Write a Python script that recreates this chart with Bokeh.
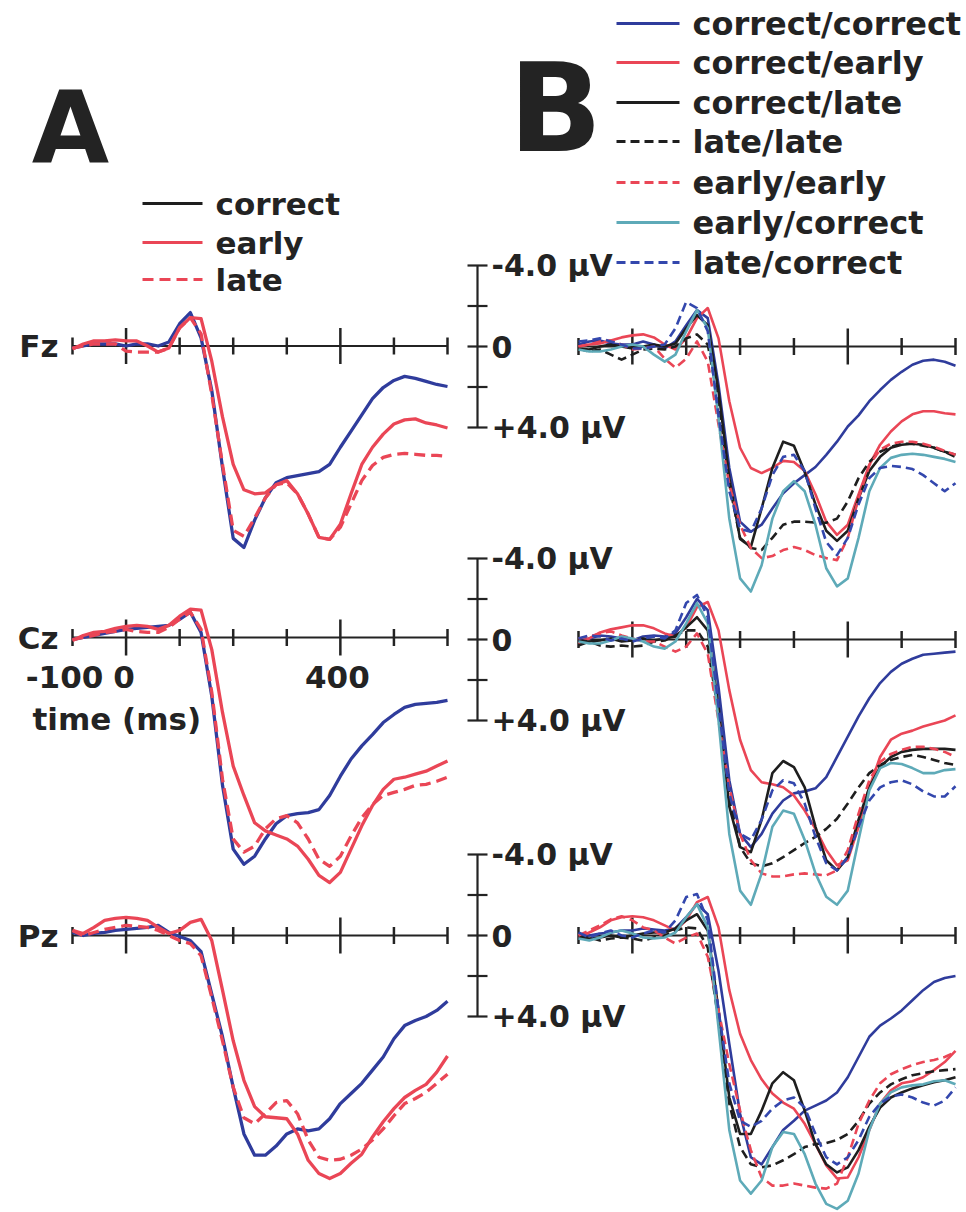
from bokeh.plotting import figure
from bokeh.models import Range1d
from bokeh.core.properties import value
from bokeh.embed import file_html
from bokeh.resources import INLINE

# ---------------- data (µV, negative plotted up) ----------------
TIME_MS = list(range(-100, 601, 20))
TICKS_MAJOR = [0, 400]
TICKS_MINOR = [-100, 100, 200, 300, 500, 600]
TIME_TICK_LABELS = ["-100", "0", "400"]
TIME_TICK_LABEL_POS = [-100, 0, 400]
SCALE_UV = [-4, -2, 0, 2, 4]
SCALE_LABEL_UV = [-4, 0, 4]
SCALE_LABELS = ["-4.0 µV", "0", "+4.0 µV"]
CHANNELS = ["Fz", "Cz", "Pz"]
A_CONDITIONS = ["correct", "early", "late"]
B_CONDITIONS = ["correct/correct", "correct/early", "correct/late", "late/late",
                "early/early", "early/correct", "late/correct"]
PANEL_LETTERS = ["A", "B"]

# Panel A
A_FZ_CORRECT = [0.1,0,-0.1,-0.1,-0.1,0,-0.1,-0.1,0,-0.2,-1.1,-1.65,-0.4,2.2,6.0,9.5,9.95,8.6,7.5,6.75,6.5,6.4,6.3,6.2,5.85,5.0,4.2,3.4,2.6,2.05,1.7,1.5,1.6,1.75,1.9,2.0]
A_FZ_EARLY = [0.15,-0.1,-0.25,-0.25,-0.3,-0.25,-0.25,0,0.3,0.1,-0.9,-1.4,-1.35,0.75,3.5,5.85,7.1,7.3,7.25,6.85,6.65,7.3,8.3,9.45,9.55,8.8,7.3,5.85,5.0,4.35,3.85,3.65,3.6,3.8,3.9,4.05]
A_FZ_LATE = [0.1,0,-0.1,-0.1,-0.1,0.25,0.3,0.3,0.3,0.1,-0.9,-1.4,-0.6,2.4,5.85,9.1,9.4,8.5,7.5,6.85,6.75,7.3,8.3,9.45,9.55,8.95,7.8,6.65,5.9,5.5,5.35,5.3,5.35,5.4,5.4,5.45]
A_CZ_CORRECT = [0.1,0,-0.1,-0.2,-0.3,-0.4,-0.45,-0.5,-0.55,-0.6,-0.9,-1.25,-0.25,2.9,7.3,10.45,11.2,10.8,9.95,9.2,8.8,8.7,8.65,8.5,7.8,6.85,6.0,5.35,4.8,4.2,3.8,3.45,3.3,3.25,3.2,3.1]
A_CZ_EARLY = [0.15,-0.1,-0.25,-0.3,-0.45,-0.55,-0.6,-0.55,-0.4,-0.6,-1.05,-1.4,-1.35,0.6,3.7,6.35,7.8,9.15,9.55,9.75,9.95,10.3,10.95,11.75,12.1,11.6,10.45,9.3,8.3,7.5,7.0,6.9,6.75,6.6,6.35,6.1]
A_CZ_LATE = [0.1,0,-0.1,-0.25,-0.3,-0.4,-0.3,-0.25,-0.25,-0.5,-0.9,-1.25,-0.4,2.7,7.0,9.95,10.6,10.3,9.45,8.95,8.8,9.15,9.95,10.95,11.3,10.8,9.8,8.9,8.25,7.8,7.65,7.5,7.3,7.25,7.1,6.9]
A_PZ_CORRECT = [-0.15,0,-0.1,-0.15,-0.25,-0.3,-0.35,-0.4,-0.5,-0.15,0.05,0.25,0.8,2.9,5.0,7.5,9.8,10.85,10.85,10.4,9.8,9.55,9.65,9.55,9.05,8.3,7.8,7.3,6.65,6.0,5.1,4.45,4.2,4.0,3.7,3.25]
A_PZ_EARLY = [-0.25,-0.1,-0.4,-0.75,-0.85,-0.9,-0.85,-0.75,-0.4,-0.1,-0.25,-0.65,-0.8,0.25,2.7,5.2,7.15,8.45,8.95,9.0,9.05,9.8,11.1,11.75,12.0,11.75,11.25,10.8,9.95,9.2,8.55,8.0,7.65,7.35,6.75,5.95]
A_PZ_LATE = [-0.25,0,-0.15,-0.3,-0.4,-0.5,-0.45,-0.4,-0.25,0,0.25,0.4,1.0,3.05,5.2,7.5,9.0,9.3,8.8,8.25,8.15,8.8,10.1,10.95,11.1,11.05,10.85,10.55,10.1,9.55,8.9,8.3,8.05,7.75,7.3,6.85]

# Panel B
B_FZ_CC = [-0.1,-0.25,-0.3,-0.15,-0.1,-0.1,-0.25,-0.1,0.1,-0.25,-1.05,-1.8,-1.4,1.9,6.0,8.65,9.15,8.8,8.0,7.25,6.75,6.35,5.95,5.35,4.7,3.95,3.4,2.7,2.15,1.65,1.25,0.9,0.7,0.65,0.75,0.95]
B_FZ_CE = [0,-0.1,-0.15,-0.3,-0.45,-0.55,-0.6,-0.45,-0.1,0.15,-0.4,-1.4,-1.9,-0.4,2.7,5.0,6.0,6.25,6.0,5.65,5.7,6.15,7.3,8.65,9.3,8.8,7.3,5.85,4.85,4.2,3.7,3.35,3.2,3.2,3.3,3.35]
B_FZ_CL = [0.1,0.15,0,-0.1,0,0.1,0,-0.1,0,-0.15,-0.9,-1.55,-1.05,2.2,6.5,9.5,9.9,8.0,6.0,4.7,4.9,6.2,7.8,9.1,9.6,9.1,7.5,6.15,5.45,5.0,4.85,4.8,4.85,5.0,5.2,5.35]
B_FZ_LL = [0.1,0.25,0.15,0.4,0.65,0.4,0.15,0.1,0.15,0,-0.4,-0.6,-0.1,2.7,6.8,9.45,9.95,10.05,9.45,8.8,8.65,8.65,8.7,8.7,8.5,7.65,6.5,5.7,5.2,4.95,4.8,4.8,4.9,5.0,5.2,5.45]
B_FZ_EE = [0,-0.1,-0.25,-0.3,-0.1,0.15,0.1,0,0.6,1.05,0.6,-0.25,0.75,3.85,6.8,8.8,9.95,10.45,10.35,10.05,9.9,10.05,10.3,10.45,10.55,9.45,7.5,5.85,5.1,4.8,4.7,4.7,4.8,4.95,5.15,5.35]
B_FZ_EC = [0.15,0.25,0.25,0.15,0,-0.1,0,0.4,0.75,0.4,-0.75,-1.8,-0.9,3.55,8.5,11.45,12.1,10.8,8.5,7.15,6.65,7.15,8.8,10.95,11.85,11.45,9.45,7.15,6.0,5.5,5.35,5.3,5.35,5.45,5.55,5.7]
B_FZ_LC = [-0.25,-0.3,-0.4,-0.25,-0.1,0.1,0.1,0,-0.1,-0.9,-2.2,-1.9,-0.75,3.4,7.15,9.0,9.15,8.0,6.35,5.45,5.35,6.15,8.0,9.65,10.3,9.45,7.8,6.5,6.0,5.9,5.95,6.05,6.35,6.75,7.15,6.75]
B_CZ_CC = [0.1,-0.05,-0.2,-0.15,-0.05,0.05,-0.15,-0.2,-0.15,-0.3,-1.1,-2.0,-1.45,2.35,6.95,9.6,10.25,9.6,8.6,7.95,7.6,7.5,7.35,6.8,5.8,4.8,3.8,2.9,2.15,1.6,1.2,0.95,0.75,0.7,0.65,0.6]
B_CZ_CE = [0.2,-0.05,-0.35,-0.5,-0.6,-0.7,-0.7,-0.55,-0.3,-0.15,-0.6,-1.6,-1.85,-0.45,2.5,4.95,6.45,7.05,7.15,7.3,7.7,8.45,9.35,10.4,11.15,10.9,9.25,7.3,5.8,4.95,4.65,4.5,4.3,4.15,4.0,3.75]
B_CZ_CL = [0.3,0.1,0.05,-0.05,0.1,0.05,-0.05,0.05,-0.05,-0.15,-0.6,-1.1,-0.45,3.3,8.25,10.25,10.5,8.9,6.6,6.0,6.3,7.3,9.25,10.9,11.4,10.75,8.9,7.3,6.3,5.8,5.55,5.45,5.4,5.4,5.4,5.45]
B_CZ_LL = [0.05,0.1,0.3,0.35,0.3,0.35,0.3,0.1,0.05,-0.2,-0.45,-0.45,0.35,3.65,7.75,10.25,11.05,11.2,11.05,10.75,10.4,10.05,9.75,9.35,8.85,8.1,7.3,6.6,6.2,5.95,5.8,5.7,5.8,5.95,6.1,6.2]
B_CZ_EE = [-0.05,-0.15,-0.3,-0.4,-0.2,-0.05,0.1,0.1,0.35,0.6,0.35,-0.3,0.7,4.0,7.3,9.6,10.9,11.55,11.7,11.7,11.6,11.55,11.6,11.65,11.4,10.4,8.6,6.95,6.05,5.65,5.45,5.3,5.3,5.4,5.55,5.8]
B_CZ_EC = [0.1,0.2,0.2,0.05,-0.15,-0.05,0.1,0.35,0.45,0.1,-0.8,-1.8,-0.8,4.0,9.6,12.4,13.1,11.55,9.25,8.45,8.6,9.9,11.55,12.7,13.1,12.4,9.9,7.45,6.35,6.1,6.15,6.35,6.6,6.6,6.45,6.4]
B_CZ_LC = [-0.05,-0.2,-0.15,0.05,-0.05,0.1,-0.05,-0.15,-0.05,-0.45,-1.8,-2.2,-1.1,3.3,7.6,9.6,9.9,8.9,7.45,6.95,7.1,8.1,9.75,11.05,11.4,10.75,9.25,7.95,7.3,7.05,6.95,7.15,7.5,7.75,7.75,7.25]
B_PZ_CC = [0.15,0,-0.1,-0.15,-0.25,-0.25,-0.35,-0.3,-0.25,-0.35,-0.9,-1.55,-1.05,1.75,5.35,8.8,10.95,11.3,10.45,9.6,9.15,8.65,8.4,8.15,7.75,7.0,6.0,5.0,4.45,4.1,3.7,3.2,2.7,2.3,2.1,2.0]
B_PZ_CE = [0.1,-0.15,-0.4,-0.75,-0.9,-0.95,-0.9,-0.75,-0.5,-0.25,-0.75,-1.65,-1.9,-0.4,2.7,4.85,6.15,7.1,7.8,8.25,8.55,9.3,10.3,11.35,12.0,11.95,10.95,9.6,8.3,7.65,7.3,7.2,7.0,6.65,6.25,5.7]
B_PZ_CL = [0.1,0.15,0.1,0,0.1,0,-0.1,-0.15,-0.15,-0.35,-0.75,-1.05,-0.25,3.7,8.0,9.8,9.8,8.65,7.3,6.75,7.15,8.65,10.3,11.3,11.7,11.45,10.6,9.45,8.5,8.0,7.75,7.55,7.4,7.25,7.15,7.0]
B_PZ_LL = [0,0.1,0.25,0.15,0.1,0.15,0.25,0.1,0,-0.25,-0.4,-0.35,0.6,4.2,8.3,10.45,11.3,11.45,11.35,11.1,10.8,10.45,10.3,10.25,10.1,9.8,9.15,8.3,7.75,7.35,7.1,6.9,6.8,6.7,6.65,6.6]
B_PZ_EE = [0,-0.25,-0.5,-0.8,-0.95,-0.75,-0.4,-0.25,0.1,0.4,0.1,-0.1,1.05,3.7,6.35,8.65,10.6,11.95,12.35,12.35,12.25,12.35,12.45,12.5,12.25,10.95,9.3,8.15,7.3,6.85,6.6,6.4,6.25,6.15,6.0,5.75]
B_PZ_EC = [0.15,0.25,0.1,-0.15,-0.25,-0.1,0.1,0.15,0.1,-0.15,-0.9,-1.55,-0.4,4.55,9.6,12.1,12.75,12.1,10.45,9.7,9.8,10.8,12.25,13.25,13.5,13.1,11.75,9.6,8.3,7.75,7.5,7.4,7.35,7.2,7.15,7.35]
B_PZ_LC = [-0.15,0.1,-0.1,-0.25,0,0.1,-0.1,-0.25,-0.15,-0.75,-1.9,-2.05,-0.75,3.7,7.3,9.15,9.45,9.15,8.55,8.15,8.0,8.5,9.8,10.95,11.3,10.95,10.1,8.95,8.3,7.95,7.85,8.0,8.25,8.4,8.15,7.5]

A_SERIES = {
    "Fz": [A_FZ_CORRECT, A_FZ_EARLY, A_FZ_LATE],
    "Cz": [A_CZ_CORRECT, A_CZ_EARLY, A_CZ_LATE],
    "Pz": [A_PZ_CORRECT, A_PZ_EARLY, A_PZ_LATE],
}
B_SERIES = {
    "Fz": [B_FZ_CC, B_FZ_CE, B_FZ_CL, B_FZ_LL, B_FZ_EE, B_FZ_EC, B_FZ_LC],
    "Cz": [B_CZ_CC, B_CZ_CE, B_CZ_CL, B_CZ_LL, B_CZ_EE, B_CZ_EC, B_CZ_LC],
    "Pz": [B_PZ_CC, B_PZ_CE, B_PZ_CL, B_PZ_LL, B_PZ_EE, B_PZ_EC, B_PZ_LC],
}

# ---------------- styles / layout ----------------
BLUE = "#2f3c9c"
BLUE2 = "#3347ad"
RED = "#ea4656"
BLACK = "#1e1e1e"
TEAL = "#5eaab8"
INK = "#232323"
FONT = value("DejaVu Sans")

A_STYLE = [(BLUE, "solid"), (RED, "solid"), (RED, "11 6")]
A_LEGEND_COLORS = [(BLACK, "solid"), (RED, "solid"), (RED, "11 6")]
B_STYLE = [(BLUE, "solid"), (RED, "solid"), (BLACK, "solid"), (BLACK, "9 5"),
           (RED, "9 5"), (TEAL, "solid"), (BLUE2, "9 5")]

W, H = 966, 1212
PX_PER_UV = 20.25
X_PX = {"A": (72.0, 447.0), "B": (578.0, 955.0)}
BASE_PX = {"A": {"Fz": 345.5, "Cz": 637.0, "Pz": 935.0},
           "B": {"Fz": 346.0, "Cz": 639.0, "Pz": 935.0}}
SCALE_BAR_PX = 477.0


def k_of(panel):
    a, b = X_PX[panel]
    return (b - a) / (TIME_MS[-1] - TIME_MS[0])


def time_range(panel):
    k = k_of(panel)
    start = TIME_MS[0] - X_PX[panel][0] / k
    return Range1d(start=start, end=start + W / k)


def volt_range(px_zero):
    return Range1d(start=(H - px_zero) / PX_PER_UV, end=-px_zero / PX_PER_UV)


p = figure(width=W, height=H, x_range=Range1d(0, W), y_range=Range1d(H, 0),
           output_backend="svg", toolbar_location=None, x_axis_type=None, y_axis_type=None,
           min_border=0, background_fill_color="white", border_fill_color="white")
p.outline_line_color = None
p.extra_x_ranges = {"A": time_range("A"), "B": time_range("B")}
p.extra_y_ranges = {panel + ch: volt_range(BASE_PX[panel][ch]) for panel in "AB" for ch in CHANNELS}

MINOR_HALF = 8.5 / PX_PER_UV
MAJOR_HALF = 18.0 / PX_PER_UV

# legend A (pixel layout, default ranges)
LEG_A_Y = [203, 242, 279]
for yy, (col, dash) in zip(LEG_A_Y, A_LEGEND_COLORS):
    p.line(x=[142, 202], y=[yy, yy], line_color=col, line_width=3.2, line_dash=dash)
# legend B
LEG_B_Y = [23, 62, 102, 141, 182, 222, 262]
for yy, (col, dash) in zip(LEG_B_Y, B_STYLE):
    p.line(x=[616, 679], y=[yy, yy], line_color=col, line_width=3.0, line_dash=dash)

# time axes
for panel in "AB":
    for ch in CHANNELS:
        kw = dict(x_range_name=panel, y_range_name=panel + ch, line_color=INK)
        p.segment(x0=[TIME_MS[0]], x1=[TIME_MS[-1]], y0=[0], y1=[0], line_width=2, **kw)
        p.segment(x0=TICKS_MINOR, x1=TICKS_MINOR, y0=[-MINOR_HALF] * len(TICKS_MINOR),
                  y1=[MINOR_HALF] * len(TICKS_MINOR), line_width=2.5, **kw)
        p.segment(x0=TICKS_MAJOR, x1=TICKS_MAJOR, y0=[-MAJOR_HALF] * len(TICKS_MAJOR),
                  y1=[MAJOR_HALF] * len(TICKS_MAJOR), line_width=2.5, **kw)

# scale bars (in panel A time units, panel B voltage units)
kA = k_of("A")
t_bar = TIME_MS[0] + (SCALE_BAR_PX - X_PX["A"][0]) / kA
half = 10.0 / kA
for ch in CHANNELS:
    kw = dict(x_range_name="A", y_range_name="B" + ch, line_color=INK, line_width=2.2)
    p.segment(x0=[t_bar], x1=[t_bar], y0=[SCALE_UV[0]], y1=[SCALE_UV[-1]], **kw)
    p.segment(x0=[t_bar - half] * len(SCALE_UV), x1=[t_bar + half] * len(SCALE_UV),
              y0=SCALE_UV, y1=SCALE_UV, **kw)

# curves
for ch in CHANNELS:
    for vals, (col, dash) in zip(A_SERIES[ch], A_STYLE):
        p.line(TIME_MS, vals, x_range_name="A", y_range_name="A" + ch, line_color=col,
               line_width=3.3, line_dash=dash, line_join="round")
    for vals, (col, dash) in zip(B_SERIES[ch], B_STYLE):
        p.line(TIME_MS, vals, x_range_name="B", y_range_name="B" + ch, line_color=col,
               line_width=2.6, line_dash=dash, line_join="round")

TXT = dict(text_font=FONT, text_font_style="bold", text_color=INK, text_baseline="middle")

# legend texts
p.text(x=[215] * 3, y=LEG_A_Y, text=A_CONDITIONS, text_font_size="31px", text_align="left", **TXT)
p.text(x=[692] * 7, y=LEG_B_Y, text=B_CONDITIONS, text_font_size="32px", text_align="left", **TXT)

# scale labels
for ch in CHANNELS:
    p.text(x=[t_bar + 14.0 / kA] * 3, y=SCALE_LABEL_UV, text=SCALE_LABELS,
           x_range_name="A", y_range_name="B" + ch, text_font_size="30px", text_align="left", **TXT)

# channel labels
for ch in CHANNELS:
    p.text(x=[TIME_MS[0] - 14.0 / kA], y=[0], text=[ch], x_range_name="A", y_range_name="A" + ch,
           text_font_size="31px", text_align="right", **TXT)

# time tick labels under Cz of panel A
label_dx = [-8.0, -2.0, -3.0]
for lab, pos, dx in zip(TIME_TICK_LABELS, TIME_TICK_LABEL_POS, label_dx):
    p.text(x=[pos + dx / kA], y=[39.0 / PX_PER_UV], text=[lab], x_range_name="A", y_range_name="ACz",
           text_font_size="31px", text_align="center", **TXT)
p.text(x=[TIME_MS[0] - 40.0 / kA], y=[81.0 / PX_PER_UV], text=["time (ms)"], x_range_name="A",
       y_range_name="ACz", text_font_size="31px", text_align="left", **TXT)

# panel letters (sizes given in pt: 75pt = 100px, 92pt ~ 123px)
p.text(x=[70], y=[127], text=[PANEL_LETTERS[0]], text_font_size="75pt", text_align="center", **TXT)
p.text(x=[555], y=[108], text=[PANEL_LETTERS[1]], text_font_size="92pt", text_align="center", **TXT)

open("out.html", "w").write(file_html(p, INLINE))
